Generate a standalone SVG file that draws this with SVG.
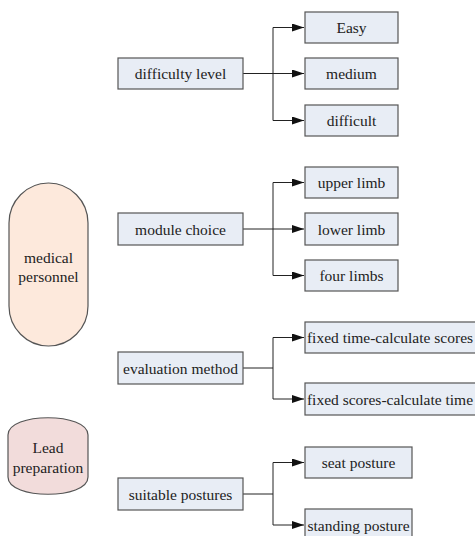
<svg xmlns="http://www.w3.org/2000/svg" width="475" height="536" viewBox="0 0 475 536">
<defs>
<style>
text{font-size:15.5px;fill:#222;text-anchor:middle}
.box{fill:#e8edf5;stroke:#555;stroke-width:1.2}
.ln{fill:none;stroke:#222;stroke-width:1}
</style>
<marker id="ah" markerWidth="12" markerHeight="8" refX="12" refY="4" orient="auto" markerUnits="userSpaceOnUse">
<path d="M0,0 L12,4 L0,8 Z" fill="#111"/>
</marker>
</defs>
<rect x="0" y="0" width="475" height="536" fill="#fff"/>
<g id="connectors">
<path class="ln" d="M243,73.5 H304" marker-end="url(#ah)"/>
<path class="ln" d="M273,27.5 V120.5"/>
<path class="ln" d="M273,27.5 H304" marker-end="url(#ah)"/>
<path class="ln" d="M273,120.5 H304" marker-end="url(#ah)"/>
<path class="ln" d="M243,229 H304" marker-end="url(#ah)"/>
<path class="ln" d="M273,182.5 V275.5"/>
<path class="ln" d="M273,182.5 H304" marker-end="url(#ah)"/>
<path class="ln" d="M273,275.5 H304" marker-end="url(#ah)"/>
<path class="ln" d="M243,368 H273"/>
<path class="ln" d="M273,337.5 V399"/>
<path class="ln" d="M273,337.5 H304" marker-end="url(#ah)"/>
<path class="ln" d="M273,399 H304" marker-end="url(#ah)"/>
<path class="ln" d="M243,494 H273"/>
<path class="ln" d="M273,462.5 V525"/>
<path class="ln" d="M273,462.5 H304" marker-end="url(#ah)"/>
<path class="ln" d="M273,525 H304" marker-end="url(#ah)"/>
</g>
<g id="medical-personnel">
<rect x="9" y="183" width="79" height="163" rx="39.5" ry="40" fill="#fde9dc" stroke="#555" stroke-width="1.2"/>
<text x="48.5" y="263" font-family="Liberation Serif">medical</text>
<text x="48.5" y="282" font-family="Liberation Serif">personnel</text>
</g>
<g id="lead-preparation">
<path d="M8,435 C8,412 88,412 88,435 L88,477 C88,500 8,500 8,477 Z" fill="#f2dcdb" stroke="#555" stroke-width="1.2"/>
<text x="48" y="453" font-family="Liberation Serif">Lead</text>
<text x="48" y="473" font-family="Liberation Serif">preparation</text>
</g>
<g id="difficulty-level"><rect class="box" x="118" y="58" width="125" height="31"/><text x="180.5" y="79" font-family="Liberation Serif">difficulty level</text></g>
<g id="easy"><rect class="box" x="305" y="12" width="93" height="31"/><text x="351.5" y="33" font-family="Liberation Serif">Easy</text></g>
<g id="medium"><rect class="box" x="305" y="58" width="93" height="31"/><text x="351.5" y="79" font-family="Liberation Serif">medium</text></g>
<g id="difficult"><rect class="box" x="305" y="105" width="93" height="31"/><text x="351.5" y="126" font-family="Liberation Serif">difficult</text></g>
<g id="module-choice"><rect class="box" x="118" y="213" width="125" height="32"/><text x="180.5" y="234.5" font-family="Liberation Serif">module choice</text></g>
<g id="upper-limb"><rect class="box" x="305" y="167" width="93" height="31"/><text x="351.5" y="188" font-family="Liberation Serif">upper limb</text></g>
<g id="lower-limb"><rect class="box" x="305" y="213" width="93" height="32"/><text x="351.5" y="234.5" font-family="Liberation Serif">lower limb</text></g>
<g id="four-limbs"><rect class="box" x="305" y="260" width="93" height="31"/><text x="351.5" y="281" font-family="Liberation Serif">four limbs</text></g>
<g id="evaluation-method"><rect class="box" x="118" y="352" width="125" height="32"/><text x="180.5" y="373.5" font-family="Liberation Serif">evaluation method</text></g>
<g id="fixed-time"><rect class="box" x="305" y="322" width="180" height="31"/><text x="390" y="343" font-family="Liberation Serif">fixed time-calculate scores</text></g>
<g id="fixed-scores"><rect class="box" x="305" y="383" width="180" height="32"/><text x="390" y="404.5" font-family="Liberation Serif">fixed scores-calculate time</text></g>
<g id="suitable-postures"><rect class="box" x="118" y="478" width="125" height="32"/><text x="180.5" y="499.5" font-family="Liberation Serif">suitable postures</text></g>
<g id="seat-posture"><rect class="box" x="305" y="447" width="107" height="31"/><text x="358.5" y="468" font-family="Liberation Serif">seat posture</text></g>
<g id="standing-posture"><rect class="box" x="305" y="509" width="107" height="32"/><text x="358.5" y="530.5" font-family="Liberation Serif">standing posture</text></g>
</svg>
